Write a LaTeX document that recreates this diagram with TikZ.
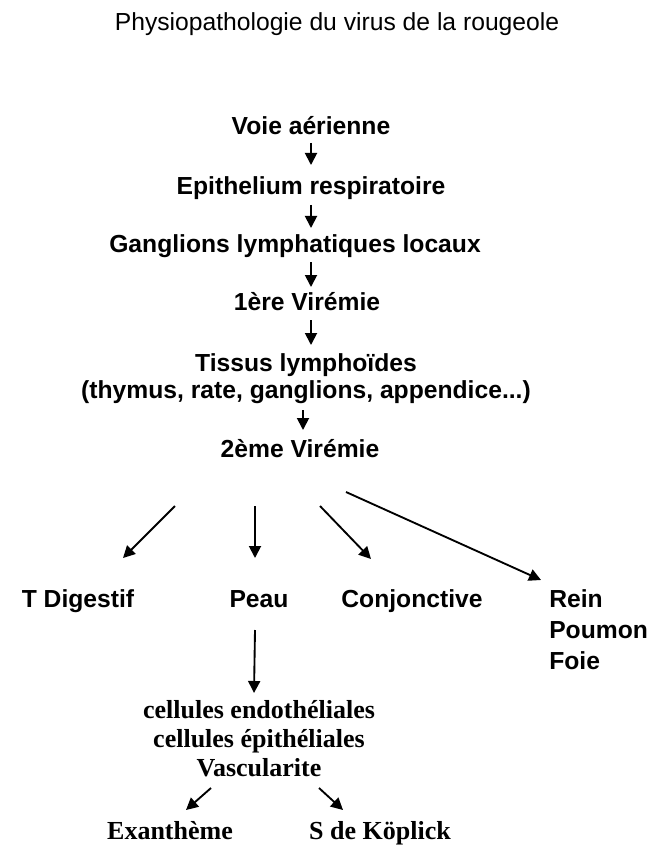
\documentclass[tikz,border=0pt]{standalone}
\usepackage{fontspec}
\setmainfont{Liberation Sans}
\newfontfamily\timesbf{Liberation Serif}
\usetikzlibrary{arrows.meta}

\begin{document}
\begin{tikzpicture}[x=0.75pt,y=-0.75pt,
        etape/.style={inner sep=0pt,text height=13.5pt,text depth=4pt,font=\fontsize{18.5}{20}\selectfont\bfseries},
        serif/.style={inner sep=0pt,align=center,font=\timesbf\fontsize{19.5}{21.75}\selectfont\bfseries},
        fleche/.style={line width=1.4pt,-{Triangle[width=9pt,length=9pt]}}]
        \useasboundingbox (0,0) rectangle (659,852);

        \node[inner sep=0pt,font=\fontsize{18.5}{20}\selectfont] (titre) at (337,24) {Physiopathologie du virus de la rougeole};

        % chaine principale
        \node[etape] (voie) at (311,128) {Voie aérienne};
        \node[etape] (epith) at (311,188) {Epithelium respiratoire};
        \node[etape] (gang) at (295,246) {Ganglions lymphatiques locaux};
        \node[etape] (vir1) at (307,304) {1ère Virémie};
        \node[etape,text height=,text depth=,align=center,font=\fontsize{18.5}{20.25}\selectfont\bfseries] (tissus) at (306,379) {Tissus lymphoïdes\\(thymus, rate, ganglions, appendice...)};
        \node[etape] (vir2) at (300,451) {2ème Virémie};

        \draw[fleche] ([shift={(0,15)}]voie.center) -- ([shift={(0,-23)}]epith.center);
        \draw[fleche] ([shift={(0,17)}]epith.center) -- ([shift={(16,-18)}]gang.center);
        \draw[fleche] ([shift={(16,16)}]gang.center) -- ([shift={(4,-17)}]vir1.center);
        \draw[fleche] ([shift={(4,16)}]vir1.center) -- ([shift={(5,-34)}]tissus.center);
        \draw[fleche] ([shift={(-3,31)}]tissus.center) -- ([shift={(3,-21)}]vir2.center);

        % organes
        \node[etape] (digestif) at (78,601) {T Digestif};
        \node[etape] (peau) at (259,601) {Peau};
        \node[etape] (conj) at (412,601) {Conjonctive};
        \node[etape,text height=,text depth=,anchor=north west,align=left,font=\fontsize{18.5}{23.25}\selectfont\bfseries] (reins) at (549,589) {Rein\\Poumon\\Foie};

        \draw[fleche] ([shift={(-125,55)}]vir2.center) -- ([shift={(45,-43)}]digestif.center);
        \draw[fleche] ([shift={(-45,55)}]vir2.center) -- ([shift={(-4,-43)}]peau.center);
        \draw[fleche] ([shift={(20,55)}]vir2.center) -- ([shift={(-41,-42)}]conj.center);
        \draw[fleche] ([shift={(46,41)}]vir2.center) -- ([shift={(-8,-9)}]reins.north west);

        % peau
        \node[serif] (cellules) at (259,739) {cellules endothéliales\\cellules épithéliales\\Vascularite};
        \node[serif,text height=14pt,text depth=4pt] (exanth) at (170,833) {Exanthème};
        \node[serif,text height=14pt,text depth=4pt] (koplick) at (380,833) {S de Köplick};

        \draw[fleche] ([shift={(-4,29)}]peau.center) -- ([shift={(-5,-46)}]cellules.center);
        \draw[fleche] ([shift={(-48,49)}]cellules.center) -- ([shift={(16,-23)}]exanth.center);
        \draw[fleche] ([shift={(60,49)}]cellules.center) -- ([shift={(-37,-23)}]koplick.center);
\end{tikzpicture}
\end{document}
